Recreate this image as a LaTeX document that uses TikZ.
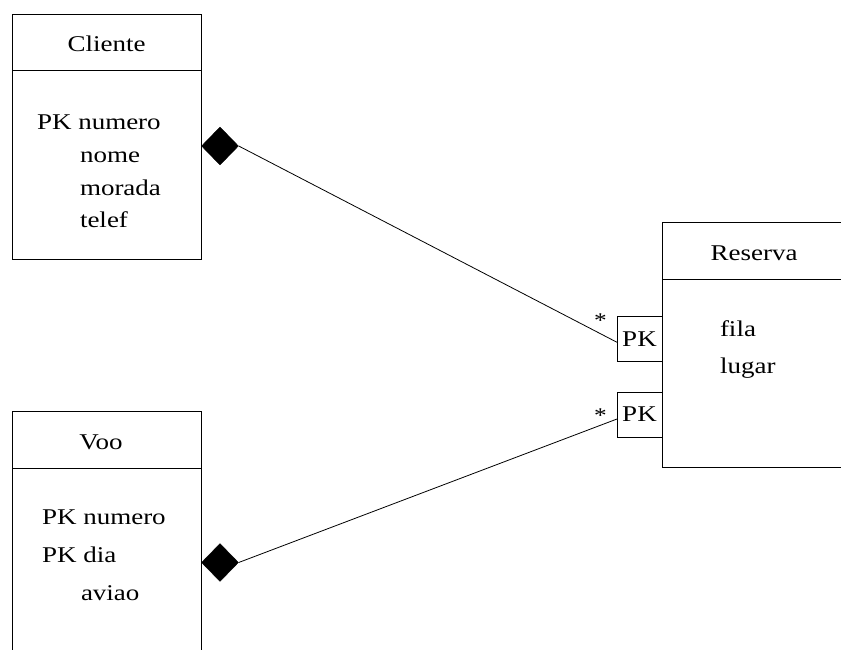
\documentclass[tikz,border=0pt]{standalone}
\usepackage{fontspec}
\setmainfont{Liberation Serif}[FakeStretch=1.2]
\usetikzlibrary{shapes.geometric}
\begin{document}
\begin{tikzpicture}[x=1pt,y=1pt,line width=0.8pt,
  entbox/.style={draw,rectangle,inner sep=0pt,outer sep=0pt,anchor=north west},
  lbl/.style={inner sep=0pt,outer sep=0pt,anchor=base west,font=\fontsize{22.5}{27}\selectfont},
  ttl/.style={inner sep=0pt,outer sep=0pt,anchor=base,font=\fontsize{22.5}{27}\selectfont},
  agg/.style={diamond,fill=black,draw=black,line width=0.4pt,inner sep=0pt,minimum width=37pt,minimum height=38pt},
  pkbox/.style={draw,rectangle,inner sep=0pt,outer sep=0pt,minimum width=45pt,minimum height=45pt,font=\fontsize{22.5}{27}\selectfont},
  star/.style={inner sep=0pt,anchor=base,font=\fontsize{21}{24}\selectfont}]
\useasboundingbox (0,0) rectangle (841,-650);
\clip (0,0) rectangle (841,-650);
% Cliente
\node[entbox,minimum width=189pt,minimum height=245pt] (cliente) at (12,-14) {};
\draw ([yshift=-56.5pt]cliente.north west) -- ([yshift=-56.5pt]cliente.north east);
\node[ttl] (clienteT) at (106.5,-52) {Cliente};
\node[lbl] (c1) at (37,-130) {PK numero};
\node[lbl] (c2) at (80,-162.5) {nome};
\node[lbl] (c3) at (80,-195) {morada};
\node[lbl] (c4) at (80,-227.5) {telef};
% Voo
\node[entbox,minimum width=189pt,minimum height=260pt] (voo) at (12,-411) {};
\draw ([yshift=-57pt]voo.north west) -- ([yshift=-57pt]voo.north east);
\node[ttl] (vooT) at (101,-449) {Voo};
\node[lbl] (v1) at (42,-524) {PK numero};
\node[lbl] (v2) at (42,-562) {PK dia};
\node[lbl] (v3) at (81,-600) {aviao};
% Reserva
\node[entbox,minimum width=200pt,minimum height=245pt] (reserva) at (662,-222) {};
\draw ([yshift=-57pt]reserva.north west) -- ([yshift=-57pt]reserva.north east);
\node[ttl] (reservaT) at (754,-260) {Reserva};
\node[lbl] (r1) at (720,-336) {fila};
\node[lbl] (r2) at (720,-373) {lugar};
% PK boxes
\node[pkbox] (pk1) at (639.5,-339.3) {PK};
\node[pkbox] (pk2) at (639.5,-414.5) {PK};
% diamonds
\node[agg] (d1) at (220,-146) {};
\node[agg] (d2) at (220,-562.5) {};
% connectors
\coordinate (e1) at ([yshift=-3pt]pk1.west);
\coordinate (e2) at ([yshift=-4.5pt]pk2.west);
\draw (d1.east) -- (e1);
\draw (d2.east) -- (e2);
\node[star] (s1) at (600.5,-327) {*};
\node[star] (s2) at (600.5,-422.5) {*};
\end{tikzpicture}
\end{document}
